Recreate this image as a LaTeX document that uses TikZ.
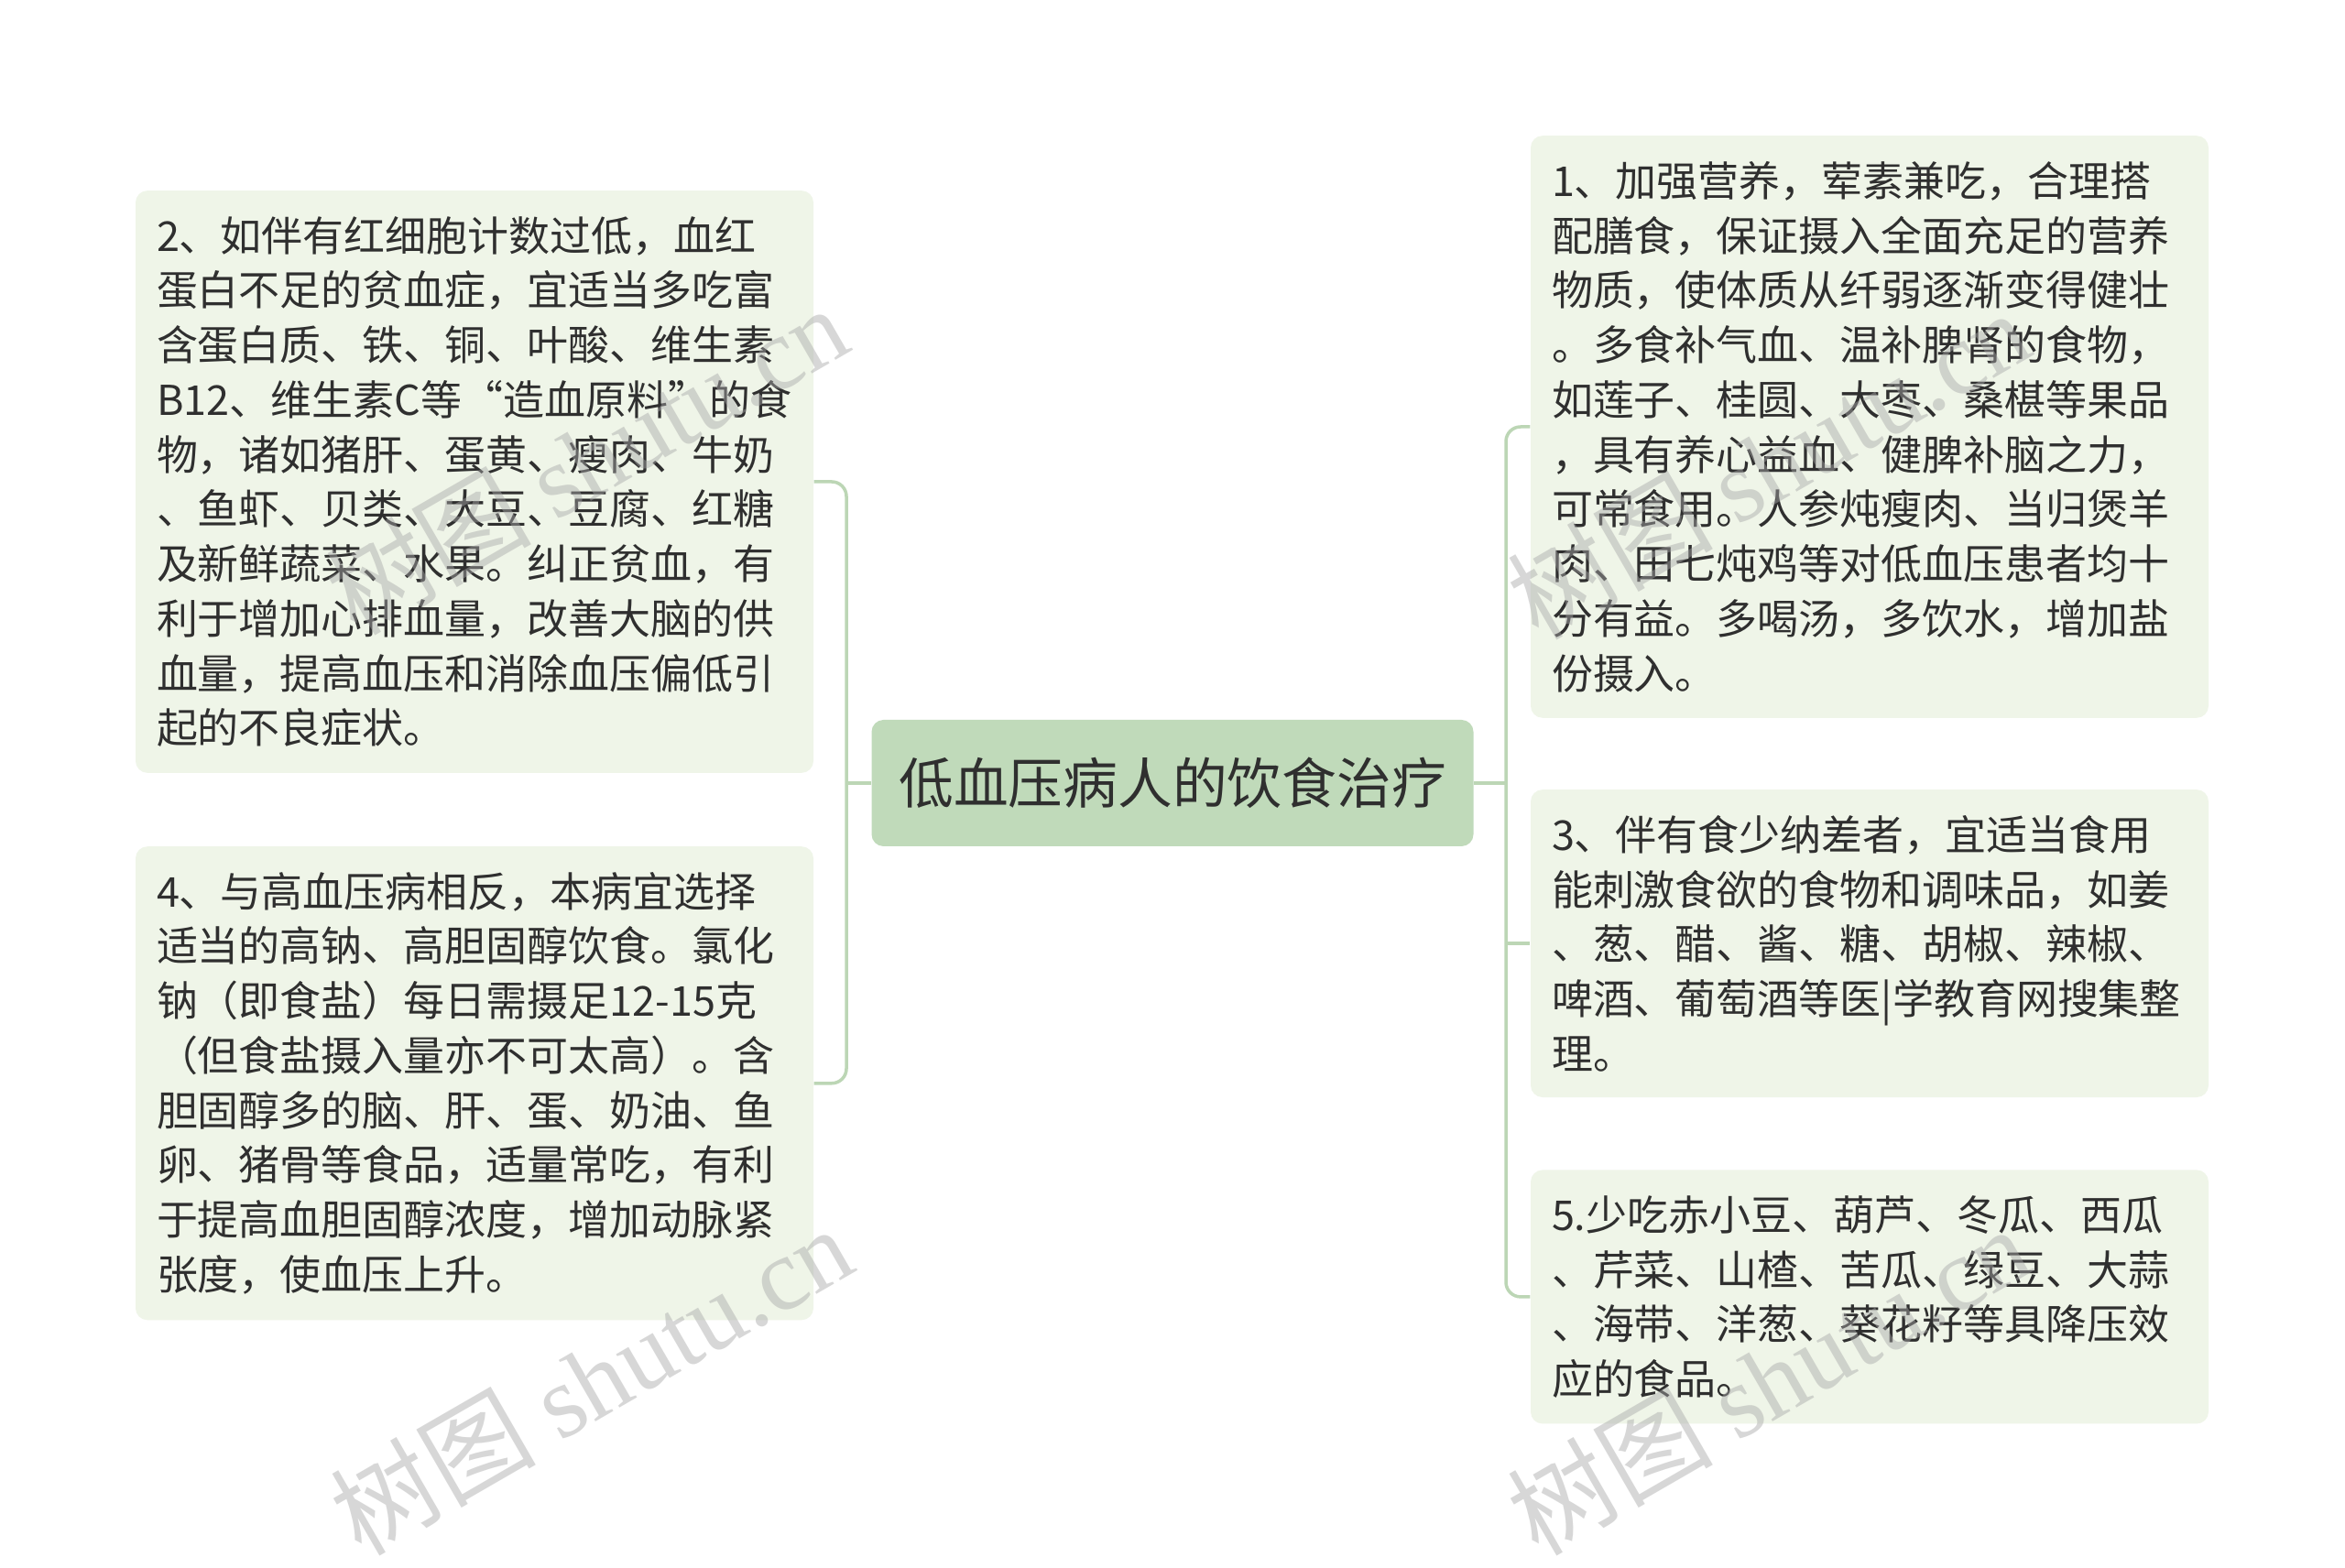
\documentclass[tikz,border=0pt]{standalone}
\usepackage{fontspec}
\setmainfont{Noto Sans CJK SC}
\newfontfamily\wmcjk{Noto Sans CJK SC}
\newfontfamily\wmlatin{Liberation Serif}
\usetikzlibrary{positioning}
\definecolor{leaffill}{HTML}{EFF5E8}
\definecolor{rootfill}{HTML}{C0DABA}
\definecolor{linkline}{HTML}{BCD6B5}
\definecolor{inktext}{HTML}{2F2F2F}
\definecolor{wmgray}{HTML}{A8A8A8}

\begin{document}
\begin{tikzpicture}[
  leaf/.style={rectangle,rounded corners=0.13cm,fill=leaffill,text=inktext,
    font=\fontsize{12.8pt}{17pt}\selectfont,align=left,text width=6.94cm,
    inner xsep=0.23cm,inner ysep=0.28cm},
  root/.style={rectangle,rounded corners=0.13cm,fill=rootfill,text=inktext,
    font=\fontsize{17pt}{20pt}\selectfont,minimum width=6.57cm,minimum height=1.38cm},
  link/.style={draw=linkline,line width=1pt,rounded corners=0.16cm},
  wmark/.style={text=wmgray,text opacity=0.45,rotate=30,font=\fontsize{32pt}{32pt}\selectfont}
]
\useasboundingbox (0,0) rectangle (25.6,17.11);
\fill[white] (0,0) rectangle (25.6,17.11);

\node[root] (C) at (12.80,8.56) {低血压病人的饮食治疗};

\node[leaf] (L1) at (5.18,11.85) {2、如伴有红细胞计数过低，血红\\蛋白不足的贫血症，宜适当多吃富\\含蛋白质、铁、铜、叶酸、维生素\\B12、维生素C等“造血原料”的食\\物，诸如猪肝、蛋黄、瘦肉、牛奶\\、鱼虾、贝类、大豆、豆腐、红糖\\及新鲜蔬菜、水果。纠正贫血，有\\利于增加心排血量，改善大脑的供\\血量，提高血压和消除血压偏低引\\起的不良症状。};
\node[leaf,below=0.79cm of L1] (L2) {4、与高血压病相反，本病宜选择\\适当的高钠、高胆固醇饮食。氯化\\钠（即食盐）每日需摄足12-15克\\（但食盐摄入量亦不可太高）。含\\胆固醇多的脑、肝、蛋、奶油、鱼\\卵、猪骨等食品，适量常吃，有利\\于提高血胆固醇浓度，增加动脉紧\\张度，使血压上升。};

\node[leaf] (R1) at (20.41,12.45) {1、加强营养，荤素兼吃，合理搭\\配膳食，保证摄入全面充足的营养\\物质，使体质从纤弱逐渐变得健壮\\。多食补气血、温补脾肾的食物，\\如莲子、桂圆、大枣、桑椹等果品\\，具有养心益血、健脾补脑之力，\\可常食用。人参炖瘦肉、当归煲羊\\肉、田七炖鸡等对低血压患者均十\\分有益。多喝汤，多饮水，增加盐\\份摄入。};
\node[leaf,below=0.77cm of R1] (R3) {3、伴有食少纳差者，宜适当食用\\能刺激食欲的食物和调味品，如姜\\、葱、醋、酱、糖、胡椒、辣椒、\\啤酒、葡萄酒等医|学教育网搜集整\\理。};
\node[leaf,below=0.78cm of R3] (R5) {5.少吃赤小豆、葫芦、冬瓜、西瓜\\、芹菜、山楂、苦瓜、绿豆、大蒜\\、海带、洋葱、葵花籽等具降压效\\应的食品。};

\coordinate (SL) at (9.24,8.56);
\coordinate (SR) at (16.44,8.56);
\draw[link] (C.west) -- (SL);
\draw[link] (L1.east) -| (SL) |- (L2.east);
\draw[link] (C.east) -- (SR);
\draw[link] (R1.west) -| (SR) |- (R5.west);
\draw[link] (SR |- R3.west) -- (R3.west);

\node[wmark] (W1) at (6.40,12.10) {{\wmcjk 树图} {\wmlatin shutu.cn}};
\node[wmark] (W2) at (6.45,2.05) {{\wmcjk 树图} {\wmlatin shutu.cn}};
\node[wmark] (W3) at (19.30,12.05) {{\wmcjk 树图} {\wmlatin shutu.cn}};
\node[wmark] (W4) at (19.30,2.05) {{\wmcjk 树图} {\wmlatin shutu.cn}};

\end{tikzpicture}
\end{document}
